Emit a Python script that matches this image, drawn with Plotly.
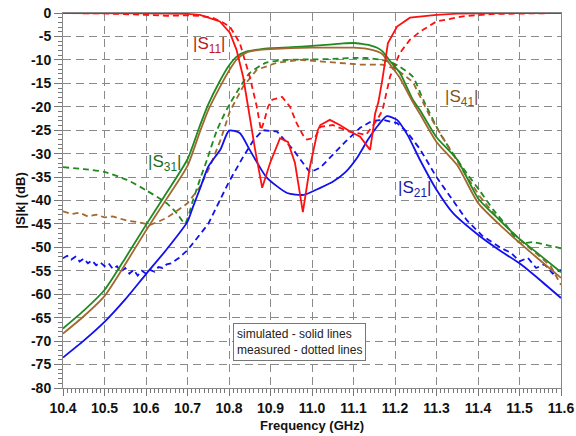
import plotly.graph_objects as go

# ---------------- data ----------------
f_s11_sim = [10.4, 10.5, 10.6, 10.7, 10.73, 10.778, 10.802, 10.818, 10.834, 10.846, 10.863, 10.88,
             10.899, 10.923, 10.942, 10.959, 10.978, 10.995, 11.014, 11.02, 11.043, 11.067, 11.092,
             11.116, 11.14, 11.147, 11.152, 11.16, 11.169, 11.183, 11.205, 11.236, 11.26, 11.3,
             11.35, 11.4, 11.5, 11.6]
s11_sim = [0, 0, -0.05, -0.2, -0.4, -1.8, -4.2, -7.8, -13.6, -20, -29.2, -37.3,
           -32, -26.7, -27.5, -32, -42.5, -32.8, -25, -23.9, -22.8, -23.9, -25.3,
           -26.4, -29.2, -25, -21.5, -19, -14.5, -6.4, -2.9, -1.0, -0.8, -0.4,
           -0.15, -0.05, 0, 0]

f_s11_meas = [10.4, 10.5, 10.6, 10.65, 10.7, 10.73, 10.76, 10.78, 10.802, 10.826, 10.85, 10.867,
              10.877, 10.885, 10.894, 10.904, 10.928, 10.947, 10.963, 10.978, 10.988, 11.007,
              11.02, 11.05, 11.09, 11.13, 11.157, 11.17, 11.188, 11.212, 11.236, 11.26, 11.3,
              11.364, 11.44, 11.5, 11.6]
s11_meas = [0, -0.1, -0.4, -0.6, -0.5, -0.6, -1.0, -1.8, -2.9, -6.4, -13.6, -20,
            -25, -23, -20, -18.5, -17.9, -20, -23.5, -26, -27, -26.6,
            -24.3, -23.9, -25.3, -26, -22.8, -20.7, -13.6, -8.5, -5.7, -4, -1.8,
            -0.7, -0.2, -0.1, 0]

f_s21_sim = [10.4, 10.45, 10.5, 10.55, 10.6, 10.65, 10.7, 10.713, 10.73, 10.75, 10.78, 10.8,
             10.826, 10.85, 10.89, 10.94, 10.98, 11.02, 11.05, 11.08, 11.11, 11.135, 11.16,
             11.18, 11.205, 11.23, 11.26, 11.3, 11.34, 11.4, 11.45, 11.5, 11.55, 11.6]
s21_sim = [-73.5, -69.9, -65.9, -61.1, -55.7, -50.4, -44.5, -41.4, -37.5, -32.8, -29, -25.1,
           -25.6, -29.2, -35, -38.4, -38.8, -37.3, -36, -34, -30.7, -27, -23.9,
           -22, -22.8, -26, -31.3, -37.7, -42.7, -47.3, -50.5, -53.4, -57, -60.8]

f_s21_meas = [10.40, 10.41, 10.42, 10.43, 10.44, 10.45, 10.46, 10.47, 10.48, 10.49, 10.50,
              10.51, 10.52, 10.53, 10.54, 10.55, 10.56, 10.57, 10.58, 10.59, 10.60, 10.61,
              10.62, 10.63, 10.64, 10.65, 10.66, 10.67, 10.68, 10.69, 10.70, 10.75, 10.8,
              10.834, 10.86, 10.882, 10.916, 10.955, 10.995, 11.02, 11.05, 11.08, 11.116,
              11.145, 11.171, 11.205, 11.228, 11.26, 11.3, 11.34, 11.373, 11.41, 11.453,
              11.48, 11.5, 11.52, 11.54, 11.56, 11.58, 11.6]
s21_meas = [-52.3, -51.8, -52.6, -52.0, -53.0, -52.4, -53.4, -52.8, -53.8, -53.2, -54.0,
            -53.4, -54.6, -54.0, -55.2, -54.4, -55.6, -54.8, -56.0, -55.0, -55.6, -54.8,
            -55.2, -54.2, -54.4, -53.6, -53.4, -52.8, -52.2, -51.4, -50.6, -45, -36,
            -30.7, -27, -25, -25.3, -29.2, -34, -33, -30.3, -27.5, -24.5,
            -23, -22.8, -23.5, -25.3, -29, -35, -40, -44.2, -47.5, -50,
            -51.2, -53.0, -52.2, -54.4, -53.6, -55.6, -54.8]

f_s31_sim = [10.4, 10.45, 10.5, 10.55, 10.6, 10.65, 10.7, 10.73, 10.75, 10.778, 10.8, 10.82,
             10.843, 10.87, 10.9, 10.95, 11.0, 11.05, 11.075, 11.1, 11.12, 11.14, 11.157, 11.17,
             11.18, 11.195, 11.212, 11.243, 11.26, 11.3, 11.35, 11.4, 11.45, 11.5, 11.55, 11.6]
s31_sim = [-67.3, -63.5, -59.1, -52.3, -45.2, -38.3, -31.2, -24, -19.5, -14.5, -11.2, -9.2,
           -8.2, -7.8, -7.5, -7.3, -7.0, -6.7, -6.5, -6.4, -6.6, -6.9, -7.4, -8.2,
           -9.3, -11, -12.8, -18.5, -20.7, -26.5, -31.3, -39.5, -44, -48.2, -51.7, -55.3]

f_s31_meas = [10.4, 10.45, 10.5, 10.554, 10.6, 10.65, 10.675, 10.694, 10.713, 10.73, 10.747,
              10.771, 10.795, 10.818, 10.85, 10.89, 10.94, 11.0, 11.05, 11.1, 11.13, 11.16,
              11.188, 11.212, 11.243, 11.268, 11.308, 11.34, 11.373, 11.405, 11.437, 11.47,
              11.5, 11.533, 11.566, 11.6]
s31_meas = [-32.9, -33.3, -33.9, -35.6, -37.8, -40.6, -42.8, -44.9, -40, -35.5, -31.3,
            -25, -20.5, -17, -12.8, -10.6, -10, -9.9, -9.8, -9.6, -9.6, -9.9,
            -10.4, -11.5, -13.6, -18.5, -25.6, -30, -34.2, -38, -42, -45.5,
            -49, -48.9, -49.5, -50.2]

f_s41_sim = [10.4, 10.45, 10.5, 10.55, 10.6, 10.65, 10.7, 10.73, 10.75, 10.778, 10.8, 10.82,
             10.843, 10.87, 10.9, 10.95, 11.0, 11.05, 11.1, 11.13, 11.157, 11.17, 11.18, 11.195,
             11.21, 11.243, 11.26, 11.3, 11.35, 11.4, 11.45, 11.5, 11.55, 11.6]
s41_sim = [-68.4, -64.7, -60.4, -53.6, -46.4, -39.6, -32.6, -25.3, -20.7, -15.8, -12.3, -9.8,
           -8.4, -7.9, -7.7, -7.5, -7.4, -7.4, -7.4, -7.6, -8.2, -8.8, -10, -11.8,
           -13.6, -19, -21.5, -27.5, -32.5, -40.5, -45, -49, -52.8, -56.5]

f_s41_meas = [10.4, 10.42, 10.44, 10.46, 10.48, 10.5, 10.52, 10.554, 10.58, 10.61, 10.63,
              10.65, 10.7, 10.73, 10.754, 10.78, 10.802, 10.834, 10.867, 10.916, 10.97,
              11.05, 11.116, 11.17, 11.205, 11.243, 11.284, 11.333, 11.37, 11.405, 11.44,
              11.477, 11.515, 11.55, 11.575, 11.6]
s41_meas = [-42.3, -42.9, -42.6, -43.4, -43.0, -43.6, -43.4, -44.3, -44.6, -45.2, -44.5,
            -43.7, -40.6, -37.1, -32.8, -27, -21, -15.7, -12.1, -10.6, -10,
            -10.6, -11, -11, -12.1, -14.7, -22, -29.2, -34.5, -39.2, -43,
            -46.3, -49.5, -52, -54, -58]

x_ticks = [10.4, 10.5, 10.6, 10.7, 10.8, 10.9, 11.0, 11.1, 11.2, 11.3, 11.4, 11.5, 11.6]
y_ticks = [0, -5, -10, -15, -20, -25, -30, -35, -40, -45, -50, -55, -60, -65, -70, -75, -80]
y_tick_labels = [str(v) for v in y_ticks]

RED = "#ff1010"
BLUE = "#1010f0"
GREEN = "#208a20"
BROWN = "#a2682f"

fig = go.Figure()

def add(fx, fy, color, dashed, smooth):
    line = dict(color=color, width=1.8, dash="6px,4px" if dashed else "solid")
    if smooth:
        line.update(shape="spline", smoothing=0.6)
    fig.add_trace(go.Scatter(x=fx, y=fy, mode="lines", line=line,
                             showlegend=False, hoverinfo="skip"))

add(f_s31_meas, s31_meas, GREEN, True, True)
add(f_s41_meas, s41_meas, BROWN, True, False)
add(f_s21_meas, s21_meas, BLUE, True, False)
add(f_s11_meas, s11_meas, RED, True, False)
add(f_s31_sim, s31_sim, GREEN, False, True)
add(f_s41_sim, s41_sim, BROWN, False, True)
add(f_s21_sim, s21_sim, BLUE, False, True)
add(f_s11_sim, s11_sim, RED, False, False)

lab_font = dict(family="Arial, Liberation Sans, sans-serif", size=17)
labels = [
    ("|S<sub>11</sub>|", 10.754, -6.8, "#c01818"),
    ("|S<sub>31</sub>|", 10.645, -32.0, "#1f6e1f"),
    ("|S<sub>41</sub>|", 11.361, -18.1, "#7f5526"),
    ("|S<sub>21</sub>|", 11.246, -37.6, "#1a1aa0"),
]
for txt, lx, ly, col in labels:
    fig.add_annotation(x=lx, y=ly, text=txt, showarrow=False,
                       font=dict(lab_font, color=col))

fig.add_annotation(x=10.971, y=-70.2, showarrow=False, align="left",
                   text="simulated - solid lines<br>measured - dotted lines",
                   font=dict(family="Arial, Liberation Sans, sans-serif", size=12, color="#222"),
                   bordercolor="#777", borderwidth=1, borderpad=3, bgcolor="white")

tick_font = dict(family="Arial, Liberation Sans, sans-serif", size=14, color="#111", weight="bold")

fig.update_xaxes(
    range=[10.4, 11.6], tickvals=x_ticks, tickformat=".1f", automargin=False,
    tickfont=tick_font, ticks="outside", ticklen=7, tickcolor="#777",
    showline=True, linecolor="#888", linewidth=1, mirror=True,
    showgrid=True, gridcolor="#8a8a8a", gridwidth=1, griddash="8px,5px",
    zeroline=False,
    minor=dict(dtick=0.01, ticks="outside", ticklen=4, tickcolor="#777", showgrid=False),
    title=dict(text="Frequency (GHz)", font=dict(tick_font, size=13), standoff=6),
)
fig.update_yaxes(
    range=[-80, 0], tickvals=y_ticks, ticktext=y_tick_labels, automargin=False,
    tickfont=tick_font, ticks="outside", ticklen=8, tickcolor="#777",
    showline=True, linecolor="#888", linewidth=1, mirror=True,
    showgrid=True, gridcolor="#8a8a8a", gridwidth=1, griddash="8px,5px",
    zeroline=False,
    minor=dict(dtick=1, ticks="outside", ticklen=4, tickcolor="#777", showgrid=False),
    title=dict(text="|S|k| (dB)", font=dict(tick_font, size=13), standoff=2),
)

fig.update_layout(
    width=576, height=436,
    margin=dict(l=63, r=15, t=13, b=48),
    paper_bgcolor="white", plot_bgcolor="white",
    showlegend=False,
)

fig.write_html("out.html")
